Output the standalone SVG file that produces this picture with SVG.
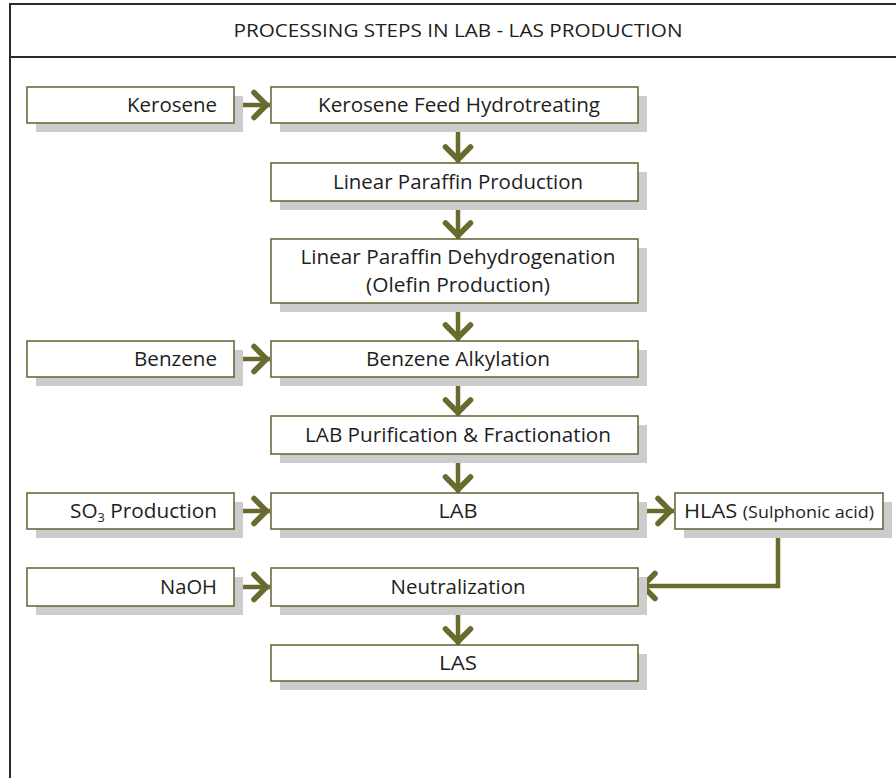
<svg xmlns="http://www.w3.org/2000/svg" width="896" height="778" viewBox="0 0 896 778">
<style>
.sh{fill:#cccccc}
.bx{fill:#ffffff;stroke:#6b6a3a;stroke-width:1.6}
.t{font-family:"Open Sans","Noto Sans",sans-serif;font-size:19.5px;fill:#1e1e1e;text-anchor:middle}
.tl{font-family:"Open Sans","Noto Sans",sans-serif;font-size:19.5px;fill:#1e1e1e;text-anchor:end}
.ttl{font-family:"Open Sans","Noto Sans",sans-serif;font-size:18.5px;fill:#1e1e1e;text-anchor:middle}
.c{fill:none;stroke:#6b6a2e;stroke-width:4.5;marker-end:url(#ah)}
.fr{stroke:#2a2a2a;stroke-width:2;fill:none}
</style>
<defs>
<marker id="ah" markerUnits="userSpaceOnUse" markerWidth="30" markerHeight="36" viewBox="-22 -18 30 36" refX="0" refY="0" orient="auto">
<path d="M-16,-12.5 L-3.5,0 L-16,12.5" fill="none" stroke="#6b6a2e" stroke-width="5.5" stroke-linecap="round" stroke-linejoin="miter"/>
</marker>
</defs>
<rect width="896" height="778" fill="#ffffff"/>
<g id="frame">
<line class="fr" x1="10" y1="3" x2="10" y2="778"/>
<line class="fr" x1="9" y1="4" x2="896" y2="4"/>
<line class="fr" x1="9" y1="57" x2="896" y2="57"/>
<text class="ttl" x="458" y="37" textLength="449" lengthAdjust="spacingAndGlyphs">PROCESSING STEPS IN LAB - LAS PRODUCTION</text>
</g>
<g id="connectors">
<path class="c" d="M234,105 H270"/>
<path class="c" d="M458,123 V163"/>
<path class="c" d="M458,201 V239"/>
<path class="c" d="M458,303 V341"/>
<path class="c" d="M234,359 H270"/>
<path class="c" d="M458,377 V416"/>
<path class="c" d="M458,454 V493"/>
<path class="c" d="M234,511 H270"/>
<path class="c" d="M638,511 H674"/>
<path class="c" d="M778,529 V586 H639"/>
<path class="c" d="M234,587 H270"/>
<path class="c" d="M458,606 V645"/>
</g>
<g id="kerosene">
<rect class="sh" x="36" y="96" width="207" height="36"/>
<rect class="bx" x="27" y="87" width="207" height="36"/>
<text class="tl" x="217" y="112" textLength="90" lengthAdjust="spacingAndGlyphs">Kerosene</text>
</g>
<g id="hydrotreating">
<rect class="sh" x="280" y="96" width="367" height="36"/>
<rect class="bx" x="271" y="87" width="367" height="36"/>
<text class="t" x="459" y="112" textLength="282" lengthAdjust="spacingAndGlyphs">Kerosene Feed Hydrotreating</text>
</g>
<g id="lpp">
<rect class="sh" x="280" y="172" width="367" height="38"/>
<rect class="bx" x="271" y="163" width="367" height="38"/>
<text class="t" x="458" y="189" textLength="250" lengthAdjust="spacingAndGlyphs">Linear Paraffin Production</text>
</g>
<g id="lpd">
<rect class="sh" x="280" y="248" width="367" height="64"/>
<rect class="bx" x="271" y="239" width="367" height="64"/>
<text class="t" x="458" y="264" textLength="315" lengthAdjust="spacingAndGlyphs">Linear Paraffin Dehydrogenation</text>
<text class="t" x="458" y="292" textLength="184" lengthAdjust="spacingAndGlyphs">(Olefin Production)</text>
</g>
<g id="benzene">
<rect class="sh" x="36" y="350" width="207" height="36"/>
<rect class="bx" x="27" y="341" width="207" height="36"/>
<text class="tl" x="217" y="366" textLength="83" lengthAdjust="spacingAndGlyphs">Benzene</text>
</g>
<g id="alkylation">
<rect class="sh" x="280" y="350" width="367" height="36"/>
<rect class="bx" x="271" y="341" width="367" height="36"/>
<text class="t" x="458" y="366" textLength="184" lengthAdjust="spacingAndGlyphs">Benzene Alkylation</text>
</g>
<g id="purification">
<rect class="sh" x="280" y="425" width="367" height="38"/>
<rect class="bx" x="271" y="416" width="367" height="38"/>
<text class="t" x="458" y="442" textLength="306" lengthAdjust="spacingAndGlyphs">LAB Purification &amp; Fractionation</text>
</g>
<g id="so3">
<rect class="sh" x="36" y="502" width="207" height="36"/>
<rect class="bx" x="27" y="493" width="207" height="36"/>
<text class="tl" x="217" y="518" textLength="147" lengthAdjust="spacingAndGlyphs">SO<tspan font-size="12" dy="4">3</tspan><tspan dy="-4"> Production</tspan></text>
</g>
<g id="lab">
<rect class="sh" x="280" y="502" width="367" height="36"/>
<rect class="bx" x="271" y="493" width="367" height="36"/>
<text class="t" x="458" y="518" textLength="39" lengthAdjust="spacingAndGlyphs">LAB</text>
</g>
<g id="hlas">
<rect class="sh" x="684" y="502" width="208" height="36"/>
<rect class="bx" x="675" y="493" width="208" height="36"/>
<text class="tl" x="874" y="518" textLength="190" lengthAdjust="spacingAndGlyphs">HLAS <tspan font-size="16">(Sulphonic acid)</tspan></text>
</g>
<g id="naoh">
<rect class="sh" x="36" y="577" width="207" height="38"/>
<rect class="bx" x="27" y="568" width="207" height="38"/>
<text class="tl" x="217" y="594" textLength="57" lengthAdjust="spacingAndGlyphs">NaOH</text>
</g>
<g id="neutralization">
<rect class="sh" x="280" y="577" width="367" height="38"/>
<rect class="bx" x="271" y="568" width="367" height="38"/>
<text class="t" x="458" y="594" textLength="135" lengthAdjust="spacingAndGlyphs">Neutralization</text>
</g>
<g id="las">
<rect class="sh" x="280" y="654" width="367" height="36"/>
<rect class="bx" x="271" y="645" width="367" height="36"/>
<text class="t" x="458" y="670" textLength="38" lengthAdjust="spacingAndGlyphs">LAS</text>
</g>
</svg>
